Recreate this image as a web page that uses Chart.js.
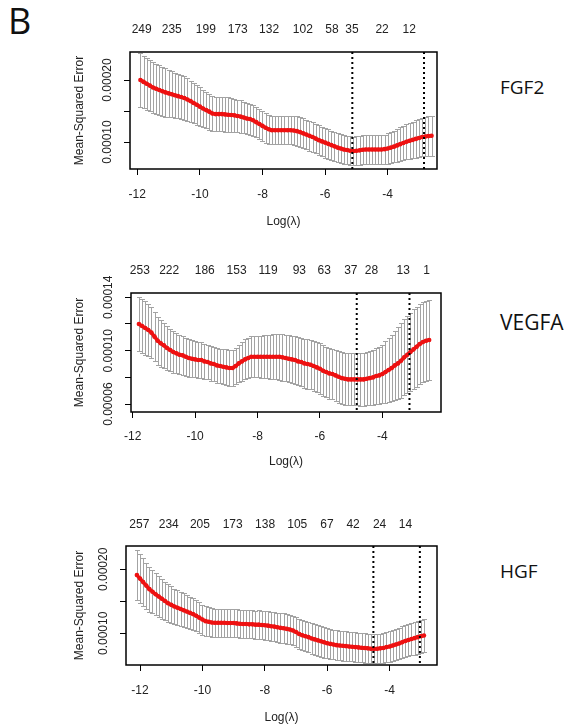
<!DOCTYPE html>
<html>
<head>
<meta charset="utf-8">
<script src="https://cdn.jsdelivr.net/npm/chart.js@4.4.0/dist/chart.umd.min.js"></script>
<style>
  body { margin: 0; background: #fff; width: 579px; height: 727px; position: relative; overflow: hidden; }
  canvas { position: absolute; left: 0; }
  .label { position: absolute; font-family: 'Open Sans', sans-serif; color: #111; line-height: 1; white-space: nowrap; }
  #figLetter { left: 8px; top: 3px; font-size: 36px; line-height: 36px; }
  .gene { left: 500px; font-size: 19px; line-height: 19px; }
</style>
</head>
<body>
<div id="figLetter" class="label">B</div>
<div class="label gene" style="top:78px">FGF2</div>
<div class="label gene" style="top:312px;font-size:21px;line-height:21px">VEGFA</div>
<div class="label gene" style="top:562px">HGF</div>
<canvas id="fgf2Chart" width="579" height="225" style="top:10px"></canvas>
<canvas id="vegfaChart" width="579" height="225" style="top:250px"></canvas>
<canvas id="hgfChart" width="579" height="227" style="top:500px"></canvas>
<script>
// FGF2
const fgf2LogLambda = [-11.9, -11.8, -11.7, -11.6, -11.5, -11.4, -11.3, -11.2, -11.1, -11.0,
  -10.9, -10.8, -10.7, -10.6, -10.5, -10.4, -10.3, -10.2, -10.1, -10.0,
  -9.9, -9.8, -9.7, -9.6, -9.5, -9.4, -9.3, -9.2, -9.1, -9.0,
  -8.9, -8.8, -8.7, -8.6, -8.5, -8.4, -8.3, -8.2, -8.1, -8.0,
  -7.9, -7.8, -7.7, -7.6, -7.5, -7.4, -7.3, -7.2, -7.1, -7.0,
  -6.9, -6.8, -6.7, -6.6, -6.5, -6.4, -6.3, -6.2, -6.1, -6.0,
  -5.9, -5.8, -5.7, -5.6, -5.5, -5.4, -5.3, -5.2, -5.1, -5.0,
  -4.9, -4.8, -4.7, -4.6, -4.5, -4.4, -4.3, -4.2, -4.1, -4.0,
  -3.9, -3.8, -3.7, -3.6, -3.5, -3.4, -3.3, -3.2, -3.1, -3.0,
  -2.9, -2.8, -2.7, -2.6];
const fgf2Mse = [20.0e-5, 19.7e-5, 19.4e-5, 19.1e-5, 18.8e-5, 18.6e-5, 18.4e-5, 18.2e-5, 18.0e-5, 17.85e-5,
  17.7e-5, 17.55e-5, 17.4e-5, 17.25e-5, 17.1e-5, 16.85e-5, 16.6e-5, 16.3e-5, 16.0e-5, 15.7e-5,
  15.4e-5, 15.15e-5, 14.9e-5, 14.6e-5, 14.5e-5, 14.5e-5, 14.5e-5, 14.45e-5, 14.4e-5, 14.35e-5,
  14.3e-5, 14.2e-5, 14.1e-5, 13.95e-5, 13.8e-5, 13.7e-5, 13.5e-5, 13.2e-5, 12.9e-5, 12.6e-5,
  12.3e-5, 12.05e-5, 11.9e-5, 11.9e-5, 11.9e-5, 11.9e-5, 11.9e-5, 11.9e-5, 11.9e-5, 11.85e-5,
  11.75e-5, 11.6e-5, 11.4e-5, 11.2e-5, 11.0e-5, 10.8e-5, 10.55e-5, 10.3e-5, 10.1e-5, 9.9e-5,
  9.7e-5, 9.5e-5, 9.3e-5, 9.1e-5, 8.95e-5, 8.8e-5, 8.7e-5, 8.6e-5, 8.55e-5, 8.6e-5,
  8.65e-5, 8.75e-5, 8.8e-5, 8.8e-5, 8.8e-5, 8.8e-5, 8.8e-5, 8.8e-5, 8.85e-5, 8.95e-5,
  9.1e-5, 9.25e-5, 9.45e-5, 9.65e-5, 9.85e-5, 10.05e-5, 10.2e-5, 10.35e-5, 10.5e-5, 10.65e-5,
  10.8e-5, 10.9e-5, 10.95e-5, 11.0e-5];
const fgf2Sd = [4.3e-5, 4.25e-5, 4.2e-5, 4.15e-5, 4.1e-5, 4.05e-5, 4.0e-5, 3.95e-5, 3.9e-5, 3.8e-5,
  3.7e-5, 3.65e-5, 3.6e-5, 3.55e-5, 3.5e-5, 3.4e-5, 3.3e-5, 3.25e-5, 3.2e-5, 3.1e-5,
  3.0e-5, 2.95e-5, 2.9e-5, 2.85e-5, 2.8e-5, 2.8e-5, 2.8e-5, 2.8e-5, 2.8e-5, 2.75e-5,
  2.7e-5, 2.65e-5, 2.6e-5, 2.55e-5, 2.5e-5, 2.5e-5, 2.5e-5, 2.45e-5, 2.4e-5, 2.4e-5,
  2.4e-5, 2.35e-5, 2.3e-5, 2.3e-5, 2.3e-5, 2.3e-5, 2.3e-5, 2.3e-5, 2.3e-5, 2.35e-5,
  2.4e-5, 2.4e-5, 2.4e-5, 2.4e-5, 2.4e-5, 2.4e-5, 2.4e-5, 2.4e-5, 2.4e-5, 2.4e-5,
  2.4e-5, 2.35e-5, 2.3e-5, 2.3e-5, 2.3e-5, 2.3e-5, 2.3e-5, 2.3e-5, 2.3e-5, 2.3e-5,
  2.3e-5, 2.3e-5, 2.3e-5, 2.3e-5, 2.3e-5, 2.3e-5, 2.3e-5, 2.3e-5, 2.35e-5, 2.45e-5,
  2.5e-5, 2.55e-5, 2.6e-5, 2.7e-5, 2.8e-5, 2.85e-5, 2.9e-5, 2.95e-5, 3.0e-5, 3.05e-5,
  3.1e-5, 3.15e-5, 3.2e-5, 3.2e-5];
const fgf2Nonzero = ['249', '235', '199', '173', '132', '102', '58', '35', '22', '12'];
const fgf2NonzeroAt = [-11.86, -10.90, -9.81, -8.79, -7.79, -6.71, -5.78, -5.14, -4.18, -3.31];
const fgf2Cutoffs = [-5.13, -2.84];
const fgf2YTicks = [0.0001, 0.00015, 0.0002];
const fgf2YLabels = ['0.00010', '', '0.00020'];

// VEGFA
const vegfaLogLambda = [-11.8, -11.7, -11.6, -11.5, -11.4, -11.3, -11.2, -11.1, -11.0, -10.9,
  -10.8, -10.7, -10.6, -10.5, -10.4, -10.3, -10.2, -10.1, -10.0, -9.9,
  -9.8, -9.7, -9.6, -9.5, -9.4, -9.3, -9.2, -9.1, -9.0, -8.9,
  -8.8, -8.7, -8.6, -8.5, -8.4, -8.3, -8.2, -8.1, -8.0, -7.9,
  -7.8, -7.7, -7.6, -7.5, -7.4, -7.3, -7.2, -7.1, -7.0, -6.9,
  -6.8, -6.7, -6.6, -6.5, -6.4, -6.3, -6.2, -6.1, -6.0, -5.9,
  -5.8, -5.7, -5.6, -5.5, -5.4, -5.3, -5.2, -5.1, -5.0, -4.9,
  -4.8, -4.7, -4.6, -4.5, -4.4, -4.3, -4.2, -4.1, -4.0, -3.9,
  -3.8, -3.7, -3.6, -3.5, -3.4, -3.3, -3.2, -3.1, -3.0, -2.9,
  -2.8, -2.7, -2.6, -2.5];
const vegfaMse = [12.0e-5, 11.85e-5, 11.7e-5, 11.55e-5, 11.35e-5, 11.05e-5, 10.75e-5, 10.55e-5, 10.4e-5, 10.2e-5,
  10.05e-5, 9.9e-5, 9.8e-5, 9.7e-5, 9.65e-5, 9.55e-5, 9.45e-5, 9.4e-5, 9.35e-5, 9.3e-5,
  9.3e-5, 9.2e-5, 9.15e-5, 9.05e-5, 9.0e-5, 8.9e-5, 8.85e-5, 8.8e-5, 8.75e-5, 8.7e-5,
  8.7e-5, 8.85e-5, 9.05e-5, 9.2e-5, 9.35e-5, 9.45e-5, 9.55e-5, 9.55e-5, 9.55e-5, 9.55e-5,
  9.55e-5, 9.55e-5, 9.55e-5, 9.55e-5, 9.55e-5, 9.55e-5, 9.5e-5, 9.45e-5, 9.4e-5, 9.35e-5,
  9.3e-5, 9.2e-5, 9.15e-5, 9.05e-5, 9.0e-5, 8.95e-5, 8.85e-5, 8.75e-5, 8.65e-5, 8.5e-5,
  8.4e-5, 8.3e-5, 8.25e-5, 8.15e-5, 8.05e-5, 7.95e-5, 7.9e-5, 7.85e-5, 7.85e-5, 7.85e-5,
  7.85e-5, 7.85e-5, 7.85e-5, 7.9e-5, 7.95e-5, 8.0e-5, 8.1e-5, 8.15e-5, 8.25e-5, 8.4e-5,
  8.55e-5, 8.7e-5, 8.9e-5, 9.05e-5, 9.25e-5, 9.5e-5, 9.7e-5, 9.9e-5, 10.1e-5, 10.3e-5,
  10.5e-5, 10.65e-5, 10.75e-5, 10.8e-5];
const vegfaSd = [2.05e-5, 2.02e-5, 2.0e-5, 1.95e-5, 1.9e-5, 1.85e-5, 1.8e-5, 1.75e-5, 1.7e-5, 1.65e-5,
  1.6e-5, 1.55e-5, 1.5e-5, 1.47e-5, 1.45e-5, 1.42e-5, 1.4e-5, 1.37e-5, 1.35e-5, 1.35e-5,
  1.35e-5, 1.32e-5, 1.3e-5, 1.3e-5, 1.3e-5, 1.3e-5, 1.3e-5, 1.32e-5, 1.35e-5, 1.35e-5,
  1.35e-5, 1.37e-5, 1.4e-5, 1.45e-5, 1.5e-5, 1.52e-5, 1.55e-5, 1.55e-5, 1.55e-5, 1.57e-5,
  1.6e-5, 1.62e-5, 1.65e-5, 1.67e-5, 1.7e-5, 1.72e-5, 1.75e-5, 1.75e-5, 1.75e-5, 1.77e-5,
  1.8e-5, 1.8e-5, 1.8e-5, 1.82e-5, 1.85e-5, 1.85e-5, 1.85e-5, 1.87e-5, 1.9e-5, 1.9e-5,
  1.9e-5, 1.9e-5, 1.9e-5, 1.92e-5, 1.95e-5, 1.95e-5, 1.95e-5, 1.95e-5, 1.95e-5, 1.95e-5,
  1.95e-5, 1.97e-5, 2.0e-5, 2.0e-5, 2.0e-5, 2.05e-5, 2.1e-5, 2.15e-5, 2.2e-5, 2.3e-5,
  2.4e-5, 2.5e-5, 2.6e-5, 2.7e-5, 2.8e-5, 2.85e-5, 2.9e-5, 2.95e-5, 3.0e-5, 3.0e-5,
  3.0e-5, 3.0e-5, 3.0e-5, 3.0e-5];
const vegfaNonzero = ['253', '222', '186', '153', '119', '93', '63', '37', '28', '13', '1'];
const vegfaNonzeroAt = [-11.77, -10.83, -9.69, -8.67, -7.66, -6.66, -5.86, -5.01, -4.35, -3.33, -2.58];
const vegfaCutoffs = [-4.82, -3.13];
const vegfaYTicks = [0.00006, 0.00008, 0.0001, 0.00012, 0.00014];
const vegfaYLabels = ['0.00006', '', '0.00010', '', '0.00014'];

// HGF
const hgfLogLambda = [-12.1, -12.0, -11.9, -11.8, -11.7, -11.6, -11.5, -11.4, -11.3, -11.2,
  -11.1, -11.0, -10.9, -10.8, -10.7, -10.6, -10.5, -10.4, -10.3, -10.2,
  -10.1, -10.0, -9.9, -9.8, -9.7, -9.6, -9.5, -9.4, -9.3, -9.2,
  -9.1, -9.0, -8.9, -8.8, -8.7, -8.6, -8.5, -8.4, -8.3, -8.2,
  -8.1, -8.0, -7.9, -7.8, -7.7, -7.6, -7.5, -7.4, -7.3, -7.2,
  -7.1, -7.0, -6.9, -6.8, -6.7, -6.6, -6.5, -6.4, -6.3, -6.2,
  -6.1, -6.0, -5.9, -5.8, -5.7, -5.6, -5.5, -5.4, -5.3, -5.2,
  -5.1, -5.0, -4.9, -4.8, -4.7, -4.6, -4.5, -4.4, -4.3, -4.2,
  -4.1, -4.0, -3.9, -3.8, -3.7, -3.6, -3.5, -3.4, -3.3, -3.2,
  -3.1, -3.0, -2.9];
const hgfMse = [19.1e-5, 18.55e-5, 18.0e-5, 17.45e-5, 16.9e-5, 16.5e-5, 16.1e-5, 15.75e-5, 15.4e-5, 15.05e-5,
  14.7e-5, 14.45e-5, 14.2e-5, 14.0e-5, 13.8e-5, 13.6e-5, 13.4e-5, 13.2e-5, 13.0e-5, 12.75e-5,
  12.45e-5, 12.15e-5, 11.9e-5, 11.8e-5, 11.7e-5, 11.65e-5, 11.65e-5, 11.65e-5, 11.65e-5, 11.6e-5,
  11.6e-5, 11.6e-5, 11.55e-5, 11.5e-5, 11.45e-5, 11.45e-5, 11.4e-5, 11.4e-5, 11.35e-5, 11.35e-5,
  11.3e-5, 11.25e-5, 11.2e-5, 11.1e-5, 11.05e-5, 10.95e-5, 10.85e-5, 10.8e-5, 10.7e-5, 10.6e-5,
  10.45e-5, 10.2e-5, 9.9e-5, 9.7e-5, 9.55e-5, 9.4e-5, 9.2e-5, 9.05e-5, 8.9e-5, 8.75e-5,
  8.6e-5, 8.45e-5, 8.35e-5, 8.25e-5, 8.15e-5, 8.1e-5, 8.05e-5, 8.0e-5, 7.95e-5, 7.9e-5,
  7.85e-5, 7.8e-5, 7.75e-5, 7.7e-5, 7.65e-5, 7.6e-5, 7.6e-5, 7.6e-5, 7.65e-5, 7.7e-5,
  7.85e-5, 7.95e-5, 8.1e-5, 8.25e-5, 8.4e-5, 8.6e-5, 8.8e-5, 8.95e-5, 9.1e-5, 9.25e-5,
  9.4e-5, 9.55e-5, 9.65e-5];
const hgfSd = [3.9e-5, 3.8e-5, 3.7e-5, 3.6e-5, 3.5e-5, 3.4e-5, 3.3e-5, 3.2e-5, 3.1e-5, 3.02e-5,
  2.95e-5, 2.87e-5, 2.8e-5, 2.75e-5, 2.7e-5, 2.65e-5, 2.6e-5, 2.55e-5, 2.5e-5, 2.45e-5,
  2.4e-5, 2.35e-5, 2.3e-5, 2.25e-5, 2.2e-5, 2.2e-5, 2.2e-5, 2.2e-5, 2.2e-5, 2.2e-5,
  2.2e-5, 2.2e-5, 2.2e-5, 2.2e-5, 2.2e-5, 2.2e-5, 2.2e-5, 2.2e-5, 2.2e-5, 2.22e-5,
  2.25e-5, 2.25e-5, 2.25e-5, 2.27e-5, 2.3e-5, 2.3e-5, 2.3e-5, 2.3e-5, 2.3e-5, 2.3e-5,
  2.3e-5, 2.32e-5, 2.35e-5, 2.35e-5, 2.35e-5, 2.37e-5, 2.4e-5, 2.4e-5, 2.4e-5, 2.4e-5,
  2.4e-5, 2.37e-5, 2.35e-5, 2.32e-5, 2.3e-5, 2.3e-5, 2.3e-5, 2.3e-5, 2.3e-5, 2.3e-5,
  2.3e-5, 2.3e-5, 2.3e-5, 2.3e-5, 2.3e-5, 2.3e-5, 2.3e-5, 2.3e-5, 2.3e-5, 2.3e-5,
  2.35e-5, 2.37e-5, 2.4e-5, 2.42e-5, 2.45e-5, 2.47e-5, 2.5e-5, 2.52e-5, 2.55e-5, 2.57e-5,
  2.6e-5, 2.6e-5, 2.6e-5];
const hgfNonzero = ['257', '234', '205', '173', '138', '105', '67', '42', '24', '14'];
const hgfNonzeroAt = [-12.02, -11.08, -10.08, -9.03, -7.99, -6.96, -6.01, -5.17, -4.32, -3.49];
const hgfCutoffs = [-4.52, -3.03];
const hgfYTicks = [0.0001, 0.00015, 0.0002];
const hgfYLabels = ['0.00010', '', '0.00020'];

const xTicks = [-12, -10, -8, -6, -4];

const FONT = 'Liberation Sans, Arial, sans-serif';
const TEXT = '#222';

function cvPlugin(p) {
    return {
        id: 'cvPlot',
        beforeDatasetsDraw(chart) {
            // error bars: mean +/- 1 sd
            const ctx = chart.ctx;
            const x = chart.scales.x, y = chart.scales.y;
            ctx.save();
            ctx.strokeStyle = '#a3a3a3';
            ctx.lineWidth = 1;
            p.logLambda.forEach(function(v, i) {
                const px = Math.round(x.getPixelForValue(v)) + 0.5;
                const top = Math.round(y.getPixelForValue(p.mse[i] + p.sd[i])) + 0.5;
                const bot = Math.round(y.getPixelForValue(p.mse[i] - p.sd[i])) + 0.5;
                ctx.beginPath();
                ctx.moveTo(px, top); ctx.lineTo(px, bot);
                ctx.moveTo(px - 2.5, top); ctx.lineTo(px + 2.5, top);
                ctx.moveTo(px - 2.5, bot); ctx.lineTo(px + 2.5, bot);
                ctx.stroke();
            });
            ctx.restore();
        },
        afterDatasetsDraw(chart) {
            const ctx = chart.ctx;
            const a = chart.chartArea;
            const x = chart.scales.x;
            ctx.save();
            // lambda.min and lambda.1se
            ctx.strokeStyle = '#000';
            ctx.lineWidth = 2;
            ctx.setLineDash([2, 3]);
            p.cutoffs.forEach(function(v) {
                const px = x.getPixelForValue(v);
                ctx.beginPath();
                ctx.moveTo(px, a.top);
                ctx.lineTo(px, a.bottom);
                ctx.stroke();
            });
            ctx.setLineDash([]);
            ctx.lineWidth = 1.5;
            ctx.strokeRect(a.left, a.top, a.right - a.left, a.bottom - a.top);
            ctx.restore();
        },
        afterDraw(chart) {
            // vertical y tick labels, R style
            const ctx = chart.ctx;
            const y = chart.scales.y;
            const cx = chart.chartArea.left - 22;
            ctx.save();
            ctx.fillStyle = TEXT;
            ctx.font = '12px ' + FONT;
            ctx.textAlign = 'center';
            ctx.textBaseline = 'middle';
            p.yTicks.forEach(function(v, i) {
                if (!p.yLabels[i]) return;
                ctx.save();
                ctx.translate(cx, y.getPixelForValue(v));
                ctx.rotate(-Math.PI / 2);
                ctx.fillText(p.yLabels[i], 0, 0);
                ctx.restore();
            });
            ctx.restore();
        }
    };
}

function drawPanel(id, p, box) {
    const tickGrid = { display: true, drawOnChartArea: false, drawTicks: true, tickLength: 6, color: '#000', lineWidth: 1 };
    return new Chart(document.getElementById(id), {
        type: 'line',
        data: {
            datasets: [{
                data: p.logLambda.map(function(v, i) { return { x: v, y: p.mse[i] }; }),
                borderColor: '#ee1111',
                backgroundColor: '#ee1111',
                borderWidth: 3.5,
                pointRadius: 2.3,
                pointBorderWidth: 0,
                tension: 0
            }]
        },
        plugins: [cvPlugin(p)],
        options: {
            responsive: false,
            animation: false,
            layout: { padding: { left: 0, top: 0, bottom: 0, right: 579 - box.right } },
            plugins: { legend: { display: false }, tooltip: { enabled: false } },
            scales: {
                x: {
                    type: 'linear', position: 'bottom', min: box.xMin, max: box.xMax,
                    afterBuildTicks: function(s) { s.ticks = xTicks.map(function(v) { return { value: v }; }); },
                    afterFit: function(s) { s.height = box.bottomH; },
                    grid: tickGrid,
                    border: { display: false },
                    ticks: { autoSkip: false, maxRotation: 0, padding: box.xPad, color: TEXT, font: { family: FONT, size: 12 },
                        callback: function(v) { return String(v); } },
                    title: { display: true, text: 'Log(\u03bb)', color: TEXT, font: { family: FONT, size: 12 },
                        padding: { top: 0, bottom: box.titlePad } }
                },
                xTop: {
                    type: 'linear', position: 'top', min: box.xMin, max: box.xMax,
                    afterBuildTicks: function(s) { s.ticks = p.nonzeroAt.map(function(v) { return { value: v }; }); },
                    afterFit: function(s) { s.height = box.topH; },
                    grid: { display: false, drawTicks: false },
                    border: { display: false },
                    ticks: { autoSkip: false, maxRotation: 0, padding: box.topPad, color: TEXT, font: { family: FONT, size: 12 },
                        callback: function(v, i) { return p.nonzero[i]; } }
                },
                y: {
                    type: 'linear', position: 'left', min: box.yMin, max: box.yMax,
                    afterBuildTicks: function(s) { s.ticks = p.yTicks.map(function(v) { return { value: v }; }); },
                    afterFit: function(s) { s.width = box.left; },
                    grid: tickGrid,
                    border: { display: false },
                    ticks: { display: false },
                    title: { display: true, text: 'Mean-Squared Error', color: TEXT, font: { family: FONT, size: 12 },
                        padding: { top: 72, bottom: 0 } }
                }
            }
        }
    });
}

drawPanel('fgf2Chart',
    { logLambda: fgf2LogLambda, mse: fgf2Mse, sd: fgf2Sd, nonzero: fgf2Nonzero, nonzeroAt: fgf2NonzeroAt,
      cutoffs: fgf2Cutoffs, yTicks: fgf2YTicks, yLabels: fgf2YLabels },
    { left: 130, right: 437, topH: 42, bottomH: 66, xPad: 12, topPad: 15, titlePad: 6,
      xMin: -12.233, xMax: -2.425, yMin: 5.645e-5, yMax: 24.52e-5 });

drawPanel('vegfaChart',
    { logLambda: vegfaLogLambda, mse: vegfaMse, sd: vegfaSd, nonzero: vegfaNonzero, nonzeroAt: vegfaNonzeroAt,
      cutoffs: vegfaCutoffs, yTicks: vegfaYTicks, yLabels: vegfaYLabels },
    { left: 131, right: 441, topH: 43, bottomH: 63, xPad: 11, topPad: 15, titlePad: 6,
      xMin: -12.054, xMax: -2.12, yMin: 5.41e-5, yMax: 14.32e-5 });

drawPanel('hgfChart',
    { logLambda: hgfLogLambda, mse: hgfMse, sd: hgfSd, nonzero: hgfNonzero, nonzeroAt: hgfNonzeroAt,
      cutoffs: hgfCutoffs, yTicks: hgfYTicks, yLabels: hgfYLabels },
    { left: 126, right: 437, topH: 46, bottomH: 62, xPad: 12.5, topPad: 14, titlePad: 2,
      xMin: -12.449, xMax: -2.481, yMin: 5.05e-5, yMax: 23.64e-5 });
</script>
</body>
</html>
